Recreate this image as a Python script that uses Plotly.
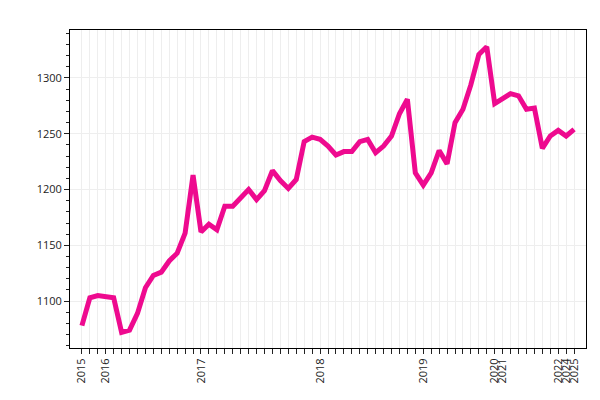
import plotly.graph_objects as go

values = [1078,1103,1105,1104,1103,1072,1074,1089,1112,1123,1126,1136,1143,1161,1213,
          1162,1169,1164,1185,1185,1193,1200,1191,1199,1217,1208,1201,1209,1243,1247,
          1245,1239,1231,1234,1234,1243,1245,1233,1239,1248,1268,1281,1215,1204,1215,
          1235,1223,1260,1272,1294,1321,1328,1277,1281,1286,1284,1272,1273,1237,1248,
          1253,1248,1254]
label_index = [0, 3, 15, 30, 43, 52, 53, 60, 61, 62]
label_text = ["2015", "2016", "2017", "2018", "2019", "2020", "2021", "2022", "2024", "2025"]

idx = list(range(len(values)))
ticktext = [""] * len(values)
for i, t in zip(label_index, label_text):
    ticktext[i] = t

fig = go.Figure(go.Scatter(x=idx, y=values, mode="lines",
                           line=dict(color="#ee0a8f", width=5), hoverinfo="skip"))
fig.update_layout(
    width=600, height=400, margin=dict(l=62, r=22, t=22, b=60, autoexpand=False),
    plot_bgcolor="white", paper_bgcolor="white", showlegend=False,
    font=dict(family="Open Sans", size=11, color="#222"),
)
fig.update_xaxes(range=[-1.5, 63.5], tickmode="array", tickvals=idx, ticktext=ticktext,
                 tickangle=-90, ticks="outside", ticklen=5, tickcolor="#222", automargin=False,
                 showline=True, linecolor="black", linewidth=1, mirror=True,
                 showgrid=True, gridcolor="#eeeeee", zeroline=False)
fig.update_yaxes(range=[1058, 1343], tickvals=[1100, 1150, 1200, 1250, 1300],
                 ticks="outside", ticklen=5, tickcolor="#222", automargin=False,
                 minor=dict(dtick=10, ticks="outside", ticklen=3, tickcolor="#222", showgrid=False),
                 showline=True, linecolor="black", linewidth=1, mirror=True,
                 showgrid=True, gridcolor="#eeeeee", zeroline=False)
fig.write_html("out.html")
